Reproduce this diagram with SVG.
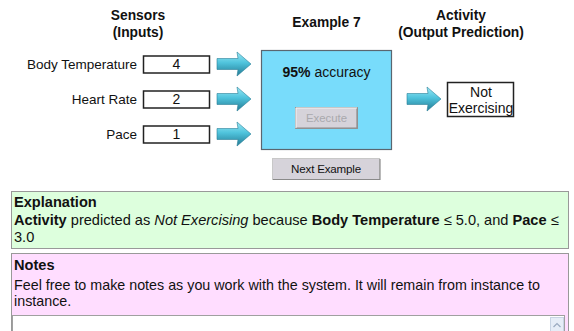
<svg xmlns="http://www.w3.org/2000/svg" width="574" height="331" viewBox="0 0 574 331">
<defs>
<linearGradient id="ag" x1="0" y1="0" x2="0" y2="1">
<stop offset="0" stop-color="#9beaf7"/>
<stop offset="0.45" stop-color="#4fc3dc"/>
<stop offset="1" stop-color="#237a93"/>
</linearGradient>
<path id="arr" d="M0,-5.5 L21,-5.5 L20,-12 L34,0 L20,12 L21,5.5 L0,5.5 Z"/>
</defs>
<style>
text{font-family:"Liberation Sans",Arial,sans-serif;fill:#111}
.h{font-weight:bold;font-size:13.8px;text-anchor:middle}
.lbl{font-size:13.5px;text-anchor:end}
.val{font-size:14px;text-anchor:middle}
.in{fill:#fff;stroke:#222;stroke-width:1.5}
.ar{fill:url(#ag);stroke:#2a8098;stroke-width:0.6}
.btn{fill:#d6d3da;stroke:#999;stroke-width:1}
.body{font-size:14.6px}
.nb{font-size:14.3px}
.b{font-weight:bold}
</style>
<rect width="574" height="331" fill="#fff"/>

<g id="header-sensors">
<text class="h" x="138" y="20">Sensors</text>
<text class="h" x="138" y="37">(Inputs)</text>
</g>
<g id="header-example">
<text class="h" x="326.5" y="27">Example 7</text>
</g>
<g id="header-activity">
<text class="h" x="461" y="20">Activity</text>
<text class="h" x="461" y="37">(Output Prediction)</text>
</g>

<g id="input-body-temperature">
<text class="lbl" x="137" y="69">Body Temperature</text>
<rect class="in" x="143.5" y="56" width="66" height="17"/>
<text class="val" x="176.5" y="69">4</text>
</g>
<g id="input-heart-rate">
<text class="lbl" x="137" y="104">Heart Rate</text>
<rect class="in" x="143.5" y="91" width="66" height="17"/>
<text class="val" x="176.5" y="104">2</text>
</g>
<g id="input-pace">
<text class="lbl" x="137" y="139">Pace</text>
<rect class="in" x="143.5" y="126" width="66" height="17"/>
<text class="val" x="176.5" y="139">1</text>
</g>

<g id="model">
<rect x="261.5" y="50.5" width="130" height="99" fill="#78dcfb" stroke="#5a6670" stroke-width="1.2"/>
<text x="326.5" y="77" style="font-size:14px;text-anchor:middle"><tspan class="b">95%</tspan> accuracy</text>
<rect class="btn" x="295.5" y="107.5" width="62" height="21" fill="#d6d3da"/>
<path d="M296,128 L357,128 L357,108" fill="none" stroke="#8a8a8a" stroke-width="1.2"/>
<path d="M296,128 L296,108 L357,108" fill="none" stroke="#f4f4f4" stroke-width="1"/>
<text x="326.5" y="122" style="font-size:11.4px;text-anchor:middle;fill:#a9a9ad">Execute</text>
</g>

<g id="next-example">
<rect x="272.5" y="158.5" width="107" height="21" fill="#d6d3da" stroke="#c8c8c8"/>
<path d="M273,179.5 L380,179.5 L380,159" fill="none" stroke="#8a8a8a" stroke-width="1.2"/>
<text x="326" y="173" style="font-size:11.6px;text-anchor:middle;letter-spacing:-0.2px">Next Example</text>
</g>

<g id="output">
<rect class="in" x="447.5" y="82.5" width="66" height="34"/>
<text class="val" x="481" y="97">Not</text>
<text class="val" x="481" y="113">Exercising</text>
</g>

<g id="connectors">
<use href="#arr" class="ar" x="217" y="64"/>
<use href="#arr" class="ar" x="217" y="99"/>
<use href="#arr" class="ar" x="217" y="134"/>
<use href="#arr" class="ar" x="407" y="99"/>
</g>

<g id="explanation">
<rect x="11.5" y="191.5" width="557" height="57" fill="#ddffdd" stroke="#999"/>
<text class="body b" x="14" y="207">Explanation</text>
<text class="body" x="14" y="224.5"><tspan class="b">Activity</tspan> predicted as <tspan font-style="italic">Not Exercising</tspan> because <tspan class="b">Body Temperature</tspan> ≤ 5.0, and <tspan class="b">Pace</tspan> ≤</text>
<text class="body" x="14" y="242">3.0</text>
</g>

<g id="notes">
<rect x="11.5" y="253.5" width="557" height="90" fill="#ffddff" stroke="#999"/>
<text class="body b" x="14" y="269.5">Notes</text>
<text class="nb" x="14" y="290">Feel free to make notes as you work with the system. It will remain from instance to</text>
<text class="nb" x="14" y="306">instance.</text>
<rect x="12.5" y="315.5" width="552" height="30" fill="#fff" stroke="#a0a0a0"/>
<rect x="550.5" y="317.5" width="13" height="14" fill="#e6edf7" stroke="#c8d4e4"/>
<path d="M553.5,327 L557,323.5 L560.5,327" fill="none" stroke="#9aaac0" stroke-width="1.2"/>
</g>
</svg>
